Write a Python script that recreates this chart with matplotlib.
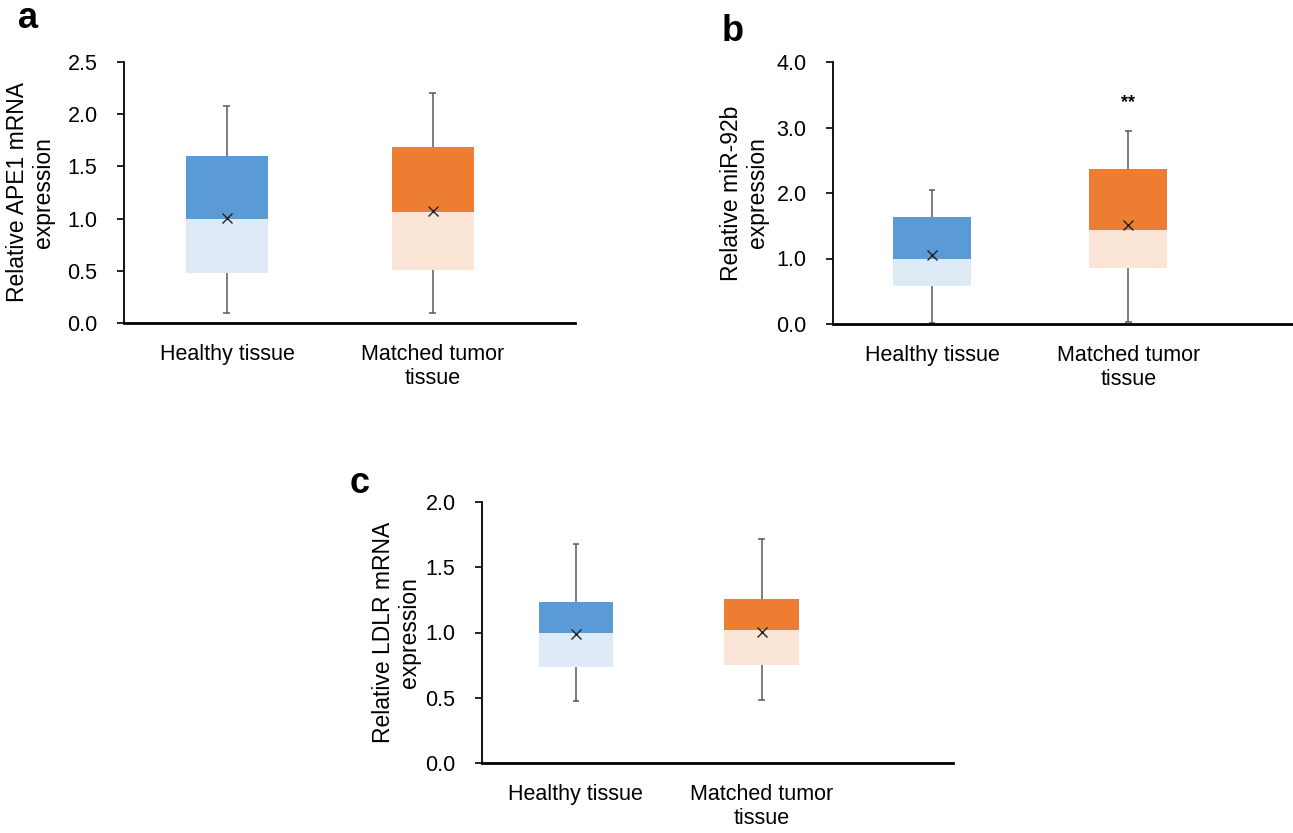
import matplotlib
matplotlib.use("Agg")
import matplotlib.pyplot as plt

plt.rcParams["font.family"] = ["Liberation Sans", "DejaVu Sans"]

CATEGORIES = ["Healthy tissue", "Matched tumor\ntissue"]

# per panel: whisker min, Q1, median, Q3, whisker max, mean  (healthy, tumor)
APE1_MIN = [0.10, 0.10]
APE1_Q1 = [0.48, 0.51]
APE1_MED = [1.00, 1.06]
APE1_Q3 = [1.60, 1.69]
APE1_MAX = [2.08, 2.20]
APE1_MEAN = [1.01, 1.07]

MIR_MIN = [0.01, 0.03]
MIR_Q1 = [0.58, 0.85]
MIR_MED = [1.00, 1.44]
MIR_Q3 = [1.64, 2.36]
MIR_MAX = [2.04, 2.95]
MIR_MEAN = [1.05, 1.51]

LDLR_MIN = [0.476, 0.484]
LDLR_Q1 = [0.736, 0.751]
LDLR_MED = [1.00, 1.02]
LDLR_Q3 = [1.235, 1.256]
LDLR_MAX = [1.68, 1.715]
LDLR_MEAN = [0.99, 1.004]

DARK = ["#5B9BD5", "#ED7D31"]
LIGHT = ["#DEEBF7", "#FBE5D6"]
FS = 15.5

W, H = 1293, 833


def px_axes(fig, left, top, right, bottom):
    return fig.add_axes([left / W, 1 - bottom / H, (right - left) / W, (bottom - top) / H])


def draw_panel(ax, mins, q1, med, q3, maxs, means, ylim, yticks, xlim, ylabel, label_x):
    pos = [1, 2]
    width = 0.40
    for i, p in enumerate(pos):
        ax.bar(p, med[i] - q1[i], bottom=q1[i], width=width, color=LIGHT[i], zorder=2)
        ax.bar(p, q3[i] - med[i], bottom=med[i], width=width, color=DARK[i], zorder=2)
        ax.vlines(p, q3[i], maxs[i], color="#595959", lw=1.1, zorder=1)
        ax.vlines(p, mins[i], q1[i], color="#595959", lw=1.1, zorder=1)
        ax.hlines([mins[i], maxs[i]], p - 0.017, p + 0.017, color="#595959", lw=1.1, zorder=1)
        ax.plot(p, means[i], marker="x", color="#222222", ms=7, mew=1.0, zorder=3)
    ax.set_xlim(*xlim)
    ax.set_ylim(*ylim)
    ax.set_yticks(yticks)
    ax.set_yticklabels([f"{t:.1f}" for t in yticks], fontsize=FS)
    ax.set_xticks(pos)
    ax.set_xticklabels(CATEGORIES, fontsize=FS, linespacing=1.2)
    ax.tick_params(axis="x", length=0, pad=15)
    ax.tick_params(axis="y", length=5, width=1.2, pad=14)
    for s in ["top", "right"]:
        ax.spines[s].set_visible(False)
    ax.spines["left"].set_linewidth(1.3)
    ax.spines["bottom"].set_linewidth(2.0)
    ax.set_ylabel(ylabel, fontsize=16.5, linespacing=1.15)
    ax.yaxis.set_label_coords(label_x, 0.5)


fig = plt.figure(figsize=(W / 100, H / 100), dpi=100)

ax_a = px_axes(fig, 124, 62, 575, 323)
draw_panel(ax_a, APE1_MIN, APE1_Q1, APE1_MED, APE1_Q3, APE1_MAX, APE1_MEAN,
           (0, 2.5), [0.0, 0.5, 1.0, 1.5, 2.0, 2.5], (0.5, 2.69),
           "Relative APE1 mRNA\nexpression", -0.153)

ax_b = px_axes(fig, 833, 62, 1293, 324)
draw_panel(ax_b, MIR_MIN, MIR_Q1, MIR_MED, MIR_Q3, MIR_MAX, MIR_MEAN,
           (0, 4.0), [0.0, 1.0, 2.0, 3.0, 4.0], (0.495, 2.84),
           "Relative miR-92b\nexpression", -0.14)
ax_b.text(2, 3.38, "**", ha="center", va="center", fontsize=13, fontweight="bold")

ax_c = px_axes(fig, 482, 502, 953, 763)
draw_panel(ax_c, LDLR_MIN, LDLR_Q1, LDLR_MED, LDLR_Q3, LDLR_MAX, LDLR_MEAN,
           (0, 2.0), [0.0, 0.5, 1.0, 1.5, 2.0], (0.495, 3.03),
           "Relative LDLR mRNA\nexpression", -0.13)

fig.text(18 / W, 1 - 28 / H, "a", fontsize=26, fontweight="bold", ha="left", va="baseline")
fig.text(722 / W, 1 - 41 / H, "b", fontsize=26, fontweight="bold", ha="left", va="baseline")
fig.text(350 / W, 1 - 493 / H, "c", fontsize=26, fontweight="bold", ha="left", va="baseline")

fig.savefig("out.png", dpi=100)
